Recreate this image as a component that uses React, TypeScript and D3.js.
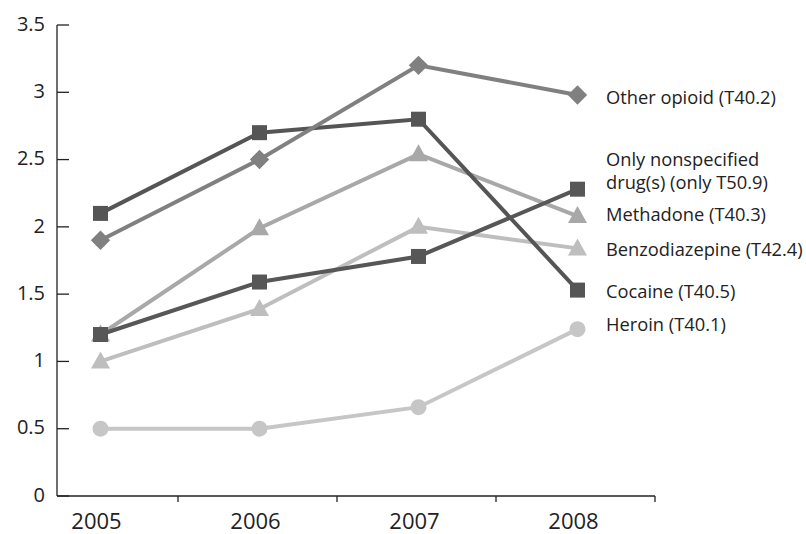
import React from "react";
import * as d3 from "d3";

const years = ["2005", "2006", "2007", "2008"];
const yTicks = [0, 0.5, 1, 1.5, 2, 2.5, 3, 3.5];

const otherOpioid = [1.9, 2.5, 3.2, 2.98];
const nonspecified = [1.2, 1.59, 1.78, 2.28];
const cocaine = [2.1, 2.7, 2.8, 1.53];
const methadone = [1.2, 1.99, 2.54, 2.08];
const benzodiazepine = [1.0, 1.39, 2.0, 1.84];
const heroin = [0.5, 0.5, 0.66, 1.24];

const seriesNames = [
  "Heroin (T40.1)",
  "Benzodiazepine (T42.4)",
  "Methadone (T40.3)",
  "Only nonspecified drug(s) (only T50.9)",
  "Cocaine (T40.5)",
  "Other opioid (T40.2)",
];

type S = { name: string; values: number[]; color: string; marker: string; labelY: number; lines: string[] };

const series: S[] = [
  { name: seriesNames[0], values: heroin, color: "#c6c6c6", marker: "circle", labelY: 325, lines: ["Heroin (T40.1)"] },
  { name: seriesNames[1], values: benzodiazepine, color: "#bebebe", marker: "triangle", labelY: 250, lines: ["Benzodiazepine (T42.4)"] },
  { name: seriesNames[2], values: methadone, color: "#a8a8a8", marker: "triangle", labelY: 215, lines: ["Methadone (T40.3)"] },
  { name: seriesNames[3], values: nonspecified, color: "#575757", marker: "square", labelY: 160, lines: ["Only nonspecified", "drug(s) (only T50.9)"] },
  { name: seriesNames[4], values: cocaine, color: "#555555", marker: "square", labelY: 292, lines: ["Cocaine (T40.5)"] },
  { name: seriesNames[5], values: otherOpioid, color: "#808080", marker: "diamond", labelY: 98, lines: ["Other opioid (T40.2)"] },
];

const font = "'Open Sans', 'Noto Sans', sans-serif";

function Marker({ type, x, y, color }: { type: string; x: number; y: number; color: string }) {
  if (type === "circle") return <circle cx={x} cy={y} r={8} fill={color} />;
  if (type === "square") return <rect x={x - 7.5} y={y - 7.5} width={15} height={15} fill={color} />;
  if (type === "diamond") {
    const p = d3.symbol().type(d3.symbolDiamond2).size(240)();
    return <path d={p || ""} transform={`translate(${x},${y})`} fill={color} />;
  }
  const t = `M${x},${y - 10} L${x + 9.5},${y + 7} L${x - 9.5},${y + 7} Z`;
  return <path d={t} fill={color} />;
}

export default function App() {
  const W = 806, H = 534;
  const x = d3.scaleBand().domain(years).range([19, 655]);
  const y = d3.scaleLinear().domain([0, 3.5]).range([496, 25]);
  const axisX = 57;
  const cx = (i: number) => (x(years[i]) as number) + x.bandwidth() / 2 + 2;
  const line = d3.line<number>().x((_, i) => cx(i)).y((v) => y(v));
  const bounds = years.slice(1).map((yr) => x(yr) as number).concat([(x(years[3]) as number) + x.bandwidth()]);

  return (
    <svg width={W} height={H} style={{ position: "absolute", left: 0, top: 0, background: "#fff" }}>
      <rect width={W} height={H} fill="#fff" />
      {/* y axis */}
      <line x1={axisX} x2={axisX} y1={y(3.5)} y2={y(0)} stroke="#222" strokeWidth={1.3} />
      {yTicks.map((t) => (
        <g key={t}>
          <line x1={axisX} x2={axisX + 12} y1={y(t)} y2={y(t)} stroke="#222" strokeWidth={1.3} />
          <text x={45} y={y(t) - 1.5} dy="0.36em" textAnchor="end" fontFamily={font} fontSize={20} fill="#222">
            {t}
          </text>
        </g>
      ))}
      {/* x axis */}
      <line x1={axisX} x2={bounds[bounds.length - 1]} y1={y(0)} y2={y(0)} stroke="#222" strokeWidth={1.3} />
      {bounds.map((b, i) => (
        <line key={i} x1={b} x2={b} y1={y(0)} y2={y(0) + 6} stroke="#222" strokeWidth={1.3} />
      ))}
      {years.map((yr, i) => (
        <text key={yr} x={cx(i) - 4} y={529} textAnchor="middle" fontFamily={font} fontSize={22} fill="#222">
          {yr}
        </text>
      ))}
      {/* series */}
      {series.map((s) => (
        <g key={s.name}>
          <path d={line(s.values) || ""} fill="none" stroke={s.color} strokeWidth={4} />
          {s.values.map((v, i) => (
            <Marker key={i} type={s.marker} x={cx(i)} y={y(v)} color={s.color} />
          ))}
        </g>
      ))}
      {/* labels */}
      {series.map((s) => (
        <text key={s.name} x={606} y={s.labelY} fontFamily={font} fontSize={18.3} fill="#222">
          {s.lines.map((l, j) => (
            <tspan key={j} x={606} dy={j === 0 ? "0.35em" : "1.25em"}>
              {l}
            </tspan>
          ))}
        </text>
      ))}
    </svg>
  );
}
